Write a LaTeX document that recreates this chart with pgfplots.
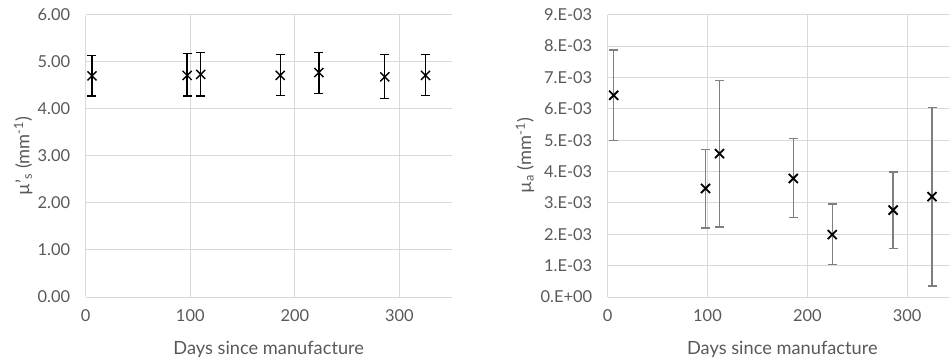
\documentclass[border=0pt]{standalone}
\usepackage{fontspec}
\setmainfont{Lato}
\usepackage{pgfplots}
\pgfplotsset{compat=1.18}
\definecolor{tickgray}{HTML}{595959}
\definecolor{gridgray}{HTML}{D9D9D9}
\definecolor{bargray}{HTML}{7F7F7F}
\pgfplotsset{
  common/.style={
    scale only axis,
    anchor=south west,
    height=282.3bp,
    xmin=0, xmax=350,
    xtick={0,100,200,300},
    axis line style={draw=none},
    tick style={draw=none},
    grid=major,
    major grid style={gridgray, line width=0.9bp},
    ticklabel style={font=\fontsize{16.5}{18}\selectfont, text=tickgray},
    xticklabel style={yshift=-9bp},
    yticklabel style={xshift=-12bp},
    label style={font=\fontsize{18.3}{20}\selectfont, text=tickgray},
    /pgf/number format/assume math mode=true,
    xlabel={Days since manufacture},
    xlabel style={at={(axis description cs:0.5,-0.184)}, anchor=center},
    clip=false,
  }
}
\pgfplotstableread{
x    y     ep    em
6    4.70  0.44  0.43
97   4.71  0.46  0.44
110  4.73  0.46  0.46
186  4.71  0.44  0.42
223  4.77  0.43  0.44
286  4.68  0.47  0.46
325  4.71  0.44  0.43
}\scatdata
\pgfplotstableread{
x    y        ep       em
6    0.00643  0.00144  0.00144
98   0.00346  0.00125  0.00126
112  0.00457  0.00233  0.00234
186  0.00378  0.00127  0.00125
225  0.00199  0.00097  0.00096
286  0.00277  0.00122  0.00123
325  0.00320  0.00284  0.00285
}\absdata
\begin{document}
\begin{tikzpicture}
\begin{axis}[common,
  at={(85.7bp,64bp)},
  width=366bp,
  ymin=0, ymax=6,
  ytick={0,1,2,3,4,5,6},
  yticklabel style={/pgf/number format/.cd, fixed, fixed zerofill, precision=2},
  ylabel={µ'\textsubscript{s} (mm\textsuperscript{-1})},
  ylabel style={at={(axis description cs:-0.171,0.5)}, anchor=center},
]
\addplot[black, only marks, mark=x, mark size=6.4bp, mark options={line width=1.4bp},
  error bars/.cd, y dir=both, y explicit,
  error bar style={black, line width=1.3bp},
  error mark options={black, line width=1.3bp, mark size=4.5bp, rotate=90}]
  table[x=x, y=y, y error plus=ep, y error minus=em] {\scatdata};
\end{axis}
\begin{axis}[common,
  at={(607.7bp,64bp)},
  width=349.3bp,
  ymin=0, ymax=0.009,
  ytick={0,0.001,0.002,0.003,0.004,0.005,0.006,0.007,0.008,0.009},
  yticklabels={0.E+00,1.E-03,2.E-03,3.E-03,4.E-03,5.E-03,6.E-03,7.E-03,8.E-03,9.E-03},
  scaled y ticks=false,
  ylabel={µ\textsubscript{a} (mm\textsuperscript{-1})},
  ylabel style={at={(axis description cs:-0.237,0.5)}, anchor=center},
]
\addplot[black, only marks, mark=x, mark size=6.4bp, mark options={line width=1.8bp},
  error bars/.cd, y dir=both, y explicit,
  error bar style={bargray, line width=1.4bp},
  error mark options={bargray, line width=1.4bp, mark size=4.5bp, rotate=90}]
  table[x=x, y=y, y error plus=ep, y error minus=em] {\absdata};
\end{axis}
\pgfresetboundingbox
\useasboundingbox (0bp,0bp) rectangle (950bp,361bp);
\end{tikzpicture}
\end{document}
